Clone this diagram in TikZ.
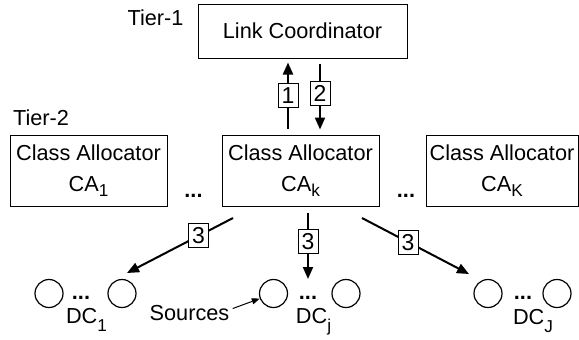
\documentclass[tikz,border=0pt]{standalone}
\usepackage{fontspec}
\setmainfont{Liberation Sans}
\usetikzlibrary{arrows.meta}
\newcommand\subx[2][2.5pt]{\raisebox{-#1}{\fontsize{8.6}{9}\selectfont #2}}
\begin{document}
\begin{tikzpicture}[x=0.5pt,y=-0.5pt,
  every node/.style={font=\fontsize{10.85}{15.5}\selectfont, inner sep=0pt},
  box/.style={draw, line width=0.5pt, minimum height=35.5pt, align=center},
  lbl/.style={draw, fill=white, line width=0.5pt, minimum width=10pt, minimum height=12pt, inner sep=1pt, font=\fontsize{11.5}{12}\selectfont},
  dc/.style={draw, circle, line width=0.6pt, minimum size=14pt},
  dots/.style={anchor=base, font=\fontsize{10.85}{12}\selectfont\bfseries},
  arr/.style={line width=1pt, -{Triangle[length=6pt,width=5pt]}},
  thinarr/.style={line width=0.5pt, -{Triangle[length=4pt,width=3pt]}}]
\useasboundingbox (0,0) rectangle (579,339);
% tier labels
\node[anchor=base] (t1) at (155.5,25) {Tier-1};
\node[anchor=base] (t2) at (41,125) {Tier-2};
% boxes
\node[box, minimum width=104.5pt, minimum height=27pt] (LC) at (302.5,31) {Link Coordinator};
\node[box, minimum width=78.5pt] (CA1) at (88.5,170.5) {Class Allocator\\CA\subx{1}};
\node[box, minimum width=78.5pt] (CAk) at (300.5,170.5) {Class Allocator\\CA\subx{k}};
\node[box, minimum width=76pt] (CAK) at (502,170.5) {Class Allocator\\CA\subx{K}};
\node[dots] (d1) at (193.5,197) {...};
\node[dots] (d2) at (406,197) {...};
% arrows 1 and 2
\draw[arr, shorten <=3pt, shorten >=2pt] ([xshift=-6.25pt]CAk.north) -- ([xshift=-7.25pt]LC.south)
  node[lbl, pos=0.51] (l1) {1};
\draw[arr, shorten <=2.5pt, shorten >=2.5pt] ([xshift=8.75pt]LC.south) -- ([xshift=9.75pt]CAk.north)
  node[lbl, pos=0.46] (l2) {2};
% circles
\node[dc] (c11) at (49,293.5) {};
\node[dc] (c12) at (122,293.5) {};
\node[dc] (c21) at (273.5,293.5) {};
\node[dc] (c22) at (346,293.5) {};
\node[dc] (c31) at (488,293.5) {};
\node[dc] (c32) at (557,293.5) {};
\node[dots] (e1) at (81,299) {...};
\node[dots] (e2) at (308,299) {...};
\node[dots] (e3) at (523,299) {...};
\node[anchor=base] (dc1) at (86.5,323) {DC\subx[4pt]{1}};
\node[anchor=base] (dcj) at (313.5,323) {DC\subx[4pt]{j}};
\node[anchor=base] (dcJ) at (533,324) {DC\subx[4pt]{J}};
\node[anchor=base] (src) at (189.5,320) {Sources};
\draw[thinarr] ([xshift=1.5pt,yshift=2pt]src.east) -- (c21);
% arrows 3
\coordinate (s3a) at (233,218);
\coordinate (e3a) at (127,273);
\coordinate (e3b) at (308,279);
\coordinate (s3c) at (362,218);
\coordinate (e3c) at (469,274);
\draw[arr] (s3a) -- (e3a) node[lbl, pos=0.325] (l3a) {3};
\draw[arr, shorten <=3pt] ([xshift=3.75pt]CAk.south) -- (e3b) node[lbl, pos=0.485] (l3b) {3};
\draw[arr] (s3c) -- (e3c) node[lbl, pos=0.43] (l3c) {3};
\end{tikzpicture}
\end{document}
